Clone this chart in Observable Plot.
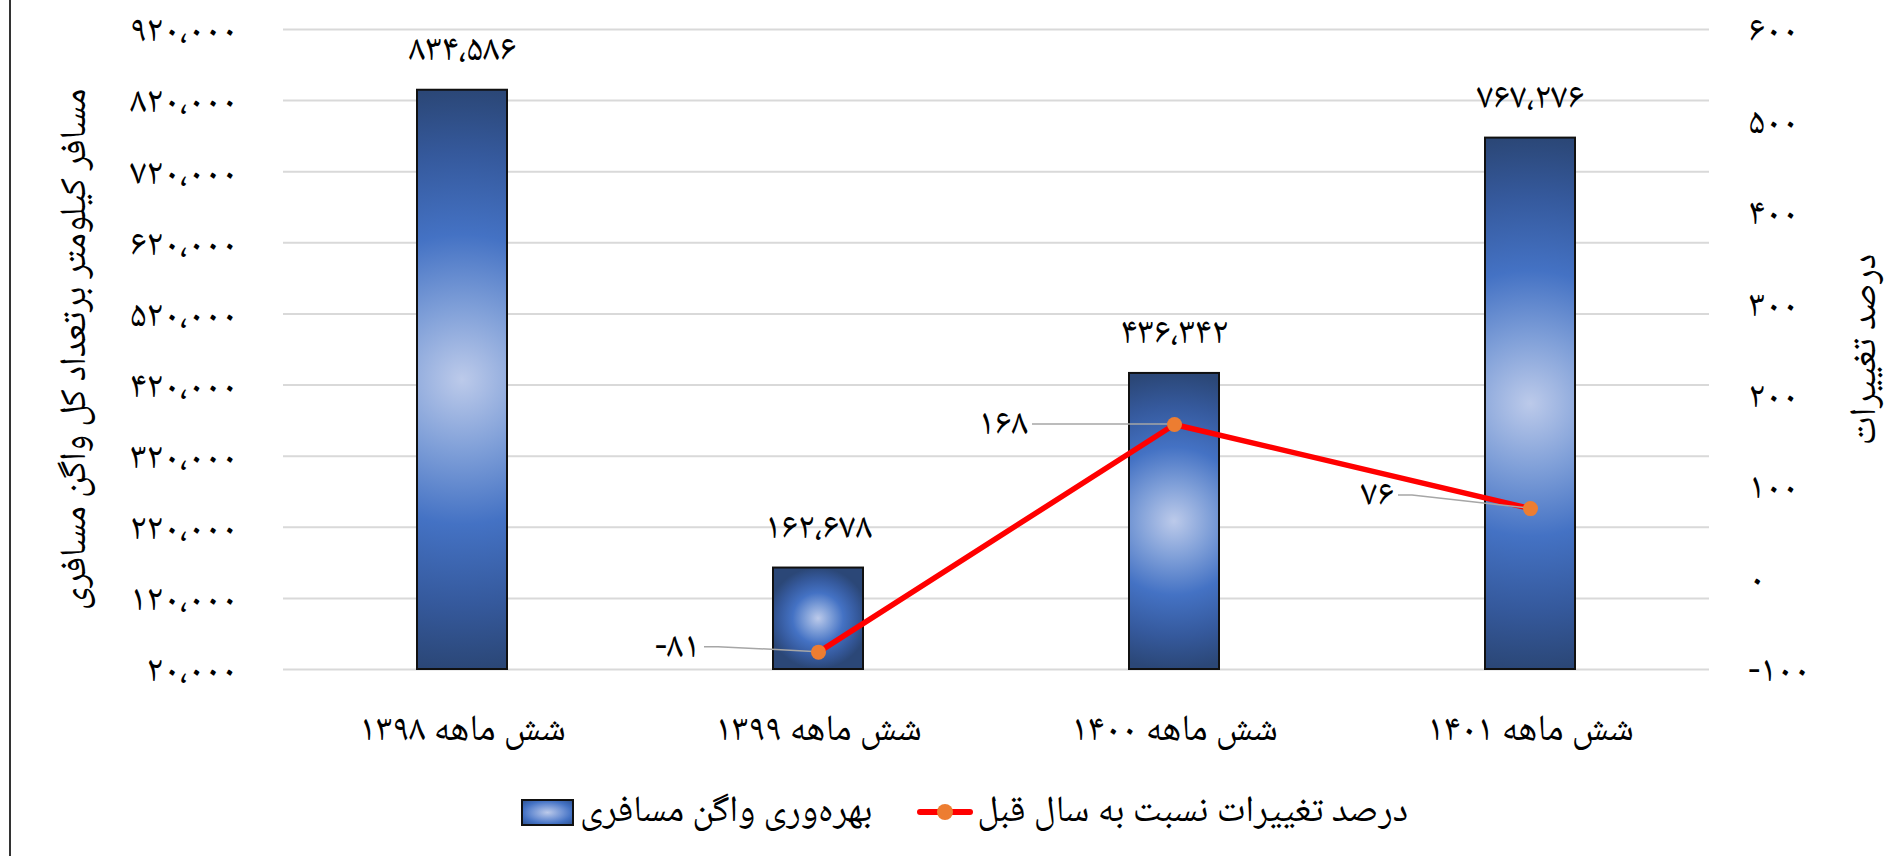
<!DOCTYPE html>
<html>
<head>
<meta charset="utf-8">
<script src="https://cdn.jsdelivr.net/npm/d3@7"></script>
<script src="https://cdn.jsdelivr.net/npm/@observablehq/plot@0.6"></script>
<style>
  html, body { margin: 0; padding: 0; background: #fff; overflow: hidden; }
  body { width: 1903px; height: 856px; position: relative;
         font-family: "Noto Naskh Arabic", "Noto Sans Arabic", "DejaVu Sans", sans-serif; color: #000; }
  #frame { position: absolute; left: 9px; top: 0; width: 2px; height: 856px; background: #333; }
  #chart { position: absolute; left: 0; top: 0; }
  #legend { position: absolute; left: 0; top: 788px; width: 1903px; height: 48px; box-sizing: border-box; padding-left: 26px;
            display: flex; align-items: center; justify-content: center; direction: ltr; font-size: 37px; }
  .sw-bar { width: 49px; height: 23px; border: 2px solid #111; margin-right: 6px;
            background: radial-gradient(ellipse at center, #bccaea 0%, #6f92d4 45%, #4472c4 70%, #2f5597 100%); }
  .sw-line { position: relative; width: 56px; height: 6px; background: #ff0000; border-radius: 3px; margin-left: 45px; margin-right: 4px; }
  .sw-line::after { content: ""; position: absolute; left: 20px; top: -5px; width: 16px; height: 16px; border-radius: 50%; background: #ed7d31; }
  .lg-text { direction: rtl; white-space: nowrap; }
</style>
</head>
<body>
<div id="frame"></div>
<div id="chart"></div>
<div id="legend">
  <div class="sw-bar"></div><div class="lg-text" id="lg1"></div>
  <div class="sw-line"></div><div class="lg-text" id="lg2"></div>
</div>
<script>
// ---------- data ----------
const categories = ["شش ماهه ۱۳۹۸", "شش ماهه ۱۳۹۹", "شش ماهه ۱۴۰۰", "شش ماهه ۱۴۰۱"];
const wagonProductivity = [834586, 162678, 436342, 767276];
const changePercent = [null, -81, 168, 76];
const leftTicks = [20000, 120000, 220000, 320000, 420000, 520000, 620000, 720000, 820000, 920000];
const rightTicks = [-100, 0, 100, 200, 300, 400, 500, 600];
const barSeriesName = "بهره‌وری واگن مسافری";
const lineSeriesName = "درصد تغییرات نسبت به سال قبل";
const leftTitle = "مسافر کیلومتر برتعداد کل واگن مسافری";
const rightTitle = "درصد تغییرات";

// ---------- helpers ----------
const faDigits = "۰۱۲۳۴۵۶۷۸۹";
function fa(n) {
  const s = d3.format(",")(Math.abs(n)).replace(/,/g, "،").replace(/[0-9]/g, c => faDigits[+c]);
  return (n < 0 ? "-" : "") + s;
}
const leftDomain = [leftTicks[0], leftTicks[leftTicks.length - 1]];
const rightDomain = [rightTicks[0], rightTicks[rightTicks.length - 1]];
const toLeft = v => leftDomain[0] + (v - rightDomain[0]) * (leftDomain[1] - leftDomain[0]) / (rightDomain[1] - rightDomain[0]);
const fromLeft = v => rightDomain[0] + (v - leftDomain[0]) * (rightDomain[1] - rightDomain[0]) / (leftDomain[1] - leftDomain[0]);

const bars = categories.map((c, i) => ({cat: c, v: wagonProductivity[i], i}));
const pts = categories.map((c, i) => ({cat: c, p: changePercent[i], i})).filter(d => d.p != null);

// label placement (style): pixel offsets of the line's data labels from their points
const ptLabelStyle = {1: {dx: -118, dy: -5}, 2: {dx: -146, dy: 0}, 3: {dx: -136, dy: -13}};

document.getElementById("lg1").textContent = barSeriesName;
document.getElementById("lg2").textContent = lineSeriesName;

const W = 1903, H = 775;
const FS = 37;

function leaderMark(index, scales, values, dimensions) {
  const g = d3.create("svg:g");
  const bw = scales.x.bandwidth ? scales.x.bandwidth() : 0;
  for (const d of pts) {
    const st = ptLabelStyle[d.i];
    const px = scales.x(d.cat) + bw / 2;
    const py = scales.y(toLeft(d.p));
    const lx = px + st.dx + 4, ly = py + st.dy;
    g.append("polyline")
      .attr("points", `${lx},${ly} ${lx + 14},${ly} ${px},${py}`)
      .attr("fill", "none").attr("stroke", "#a6a6a6").attr("stroke-width", 1.5);
    g.append("text")
      .attr("x", px + st.dx).attr("y", ly)
      .attr("text-anchor", "end").attr("dominant-baseline", "middle")
      .attr("font-size", FS).attr("fill", "#000")
      .text(fa(d.p));
  }
  return g.node();
}

const chart = Plot.plot({
  width: W,
  height: H,
  marginTop: 29,
  marginBottom: H - 669,
  marginLeft: 283,
  marginRight: W - 1709,
  style: {fontFamily: "inherit", fontSize: FS + "px", color: "#000", background: "transparent", overflow: "visible"},
  x: {domain: categories, paddingInner: 0.748, paddingOuter: 0.374, align: 0.5, label: null},
  y: {domain: leftDomain, label: null},
  color: {type: "identity"},
  marks: [
    Plot.gridY(leftTicks, {stroke: "#d9d9d9", strokeWidth: 2, strokeOpacity: 1}),
    Plot.barY(bars, {x: "cat", y1: () => leftDomain[0], y2: "v", fill: d => `url(#barGrad${d.i})`, stroke: "#111", strokeWidth: 2, inset: 0}),
    Plot.line(pts, {x: "cat", y: d => toLeft(d.p), stroke: "#ff0000", strokeWidth: 5.5}),
    leaderMark,
    Plot.dot(pts, {x: "cat", y: d => toLeft(d.p), r: 7.5, fill: "#ed7d31", stroke: "none"}),
    Plot.text(bars, {x: "cat", y: "v", text: d => fa(d.v), dy: -42, fontSize: FS, fill: "#000"}),
    Plot.axisY(leftTicks, {anchor: "left", tickSize: 0, tickPadding: 46, tickFormat: fa, label: null, fontSize: FS}),
    Plot.axisY(rightTicks.map(toLeft), {anchor: "right", tickSize: 0, tickPadding: 39, tickFormat: v => fa(Math.round(fromLeft(v))), label: null, fontSize: FS, textAnchor: "start"}),
    Plot.axisX({tickSize: 0, tickPadding: 44, label: null, fontSize: FS}),
    Plot.text([leftTitle], {frameAnchor: "left", textAnchor: "middle", dx: -210, rotate: -90, fontSize: FS, fill: "#000"}),
    Plot.text([rightTitle], {frameAnchor: "right", textAnchor: "middle", dx: 154, rotate: -90, fontSize: FS, fill: "#000"})
  ]
});

// radial gradients for the bars (circular, radius = half the bar height)
const xs = chart.scale("x"), ys = chart.scale("y");
const svg = d3.select(chart);
const defs = svg.insert("defs", ":first-child");
bars.forEach(d => {
  const h = Math.abs(ys.apply(d.v) - ys.apply(leftDomain[0]));
  const w = xs.bandwidth;
  const k = h / w;
  const grad = defs.append("radialGradient")
    .attr("id", `barGrad${d.i}`)
    .attr("cx", 0.5).attr("cy", 0.5).attr("r", 0.5)
    .attr("gradientTransform", `translate(0.5 0.5) scale(${k} 1) translate(-0.5 -0.5)`);
  [[0, "#bccaea"], [0.25, "#7f9fd8"], [0.5, "#4472c4"], [0.78, "#35599c"], [1, "#2b4777"]]
    .forEach(([o, c]) => grad.append("stop").attr("offset", o).attr("stop-color", c));
});

document.getElementById("chart").append(chart);
</script>
</body>
</html>
